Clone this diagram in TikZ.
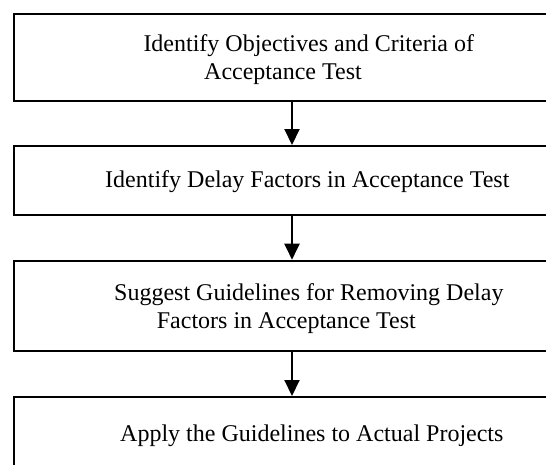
\documentclass[tikz,border=0pt]{standalone}
\usepackage{fontspec}
\setmainfont{Liberation Serif}
\usetikzlibrary{arrows.meta}
\begin{document}
\begin{tikzpicture}[x=1pt,y=-1pt,
  stagebox/.style={draw=black,line width=2pt,rectangle,minimum width=556pt,inner sep=0pt},
  label/.style={anchor=base west,inner sep=0pt,font=\fontsize{24}{27.6}\selectfont},
  flow/.style={line width=2pt,-{Triangle[length=16pt,width=15pt]}}]
  \useasboundingbox (0,0) rectangle (546,464);
  \clip (0,0) rectangle (546,464);
  % stage boxes (they run past the right and bottom edges)
  \node[stagebox,minimum height=87pt] (b1) at (292,57) {};
  \node[stagebox,minimum height=69pt] (b2) at (292,180.5) {};
  \node[stagebox,minimum height=90.3pt] (b3) at (292,305.85) {};
  \node[stagebox,minimum height=90pt] (b4) at (292,442) {};
  % stage texts
  \node[label] (t1a) at (143.3,51.7) {Identify Objectives and Criteria of};
  \node[label] (t1b) at (204,79.3) {Acceptance Test};
  \node[label] (t2) at (105,187.3) {Identify Delay Factors in Acceptance Test};
  \node[label] (t3a) at (114,300.7) {Suggest Guidelines for Removing Delay};
  \node[label] (t3b) at (156.7,328.7) {Factors in Acceptance Test};
  \node[label] (t4) at (120,441.7) {Apply the Guidelines to Actual Projects};
  % connectors
  \draw[flow] (b1.south) -- (b2.north);
  \draw[flow] (b2.south) -- (b3.north);
  \draw[flow] (b3.south) -- (b4.north);
\end{tikzpicture}
\end{document}
